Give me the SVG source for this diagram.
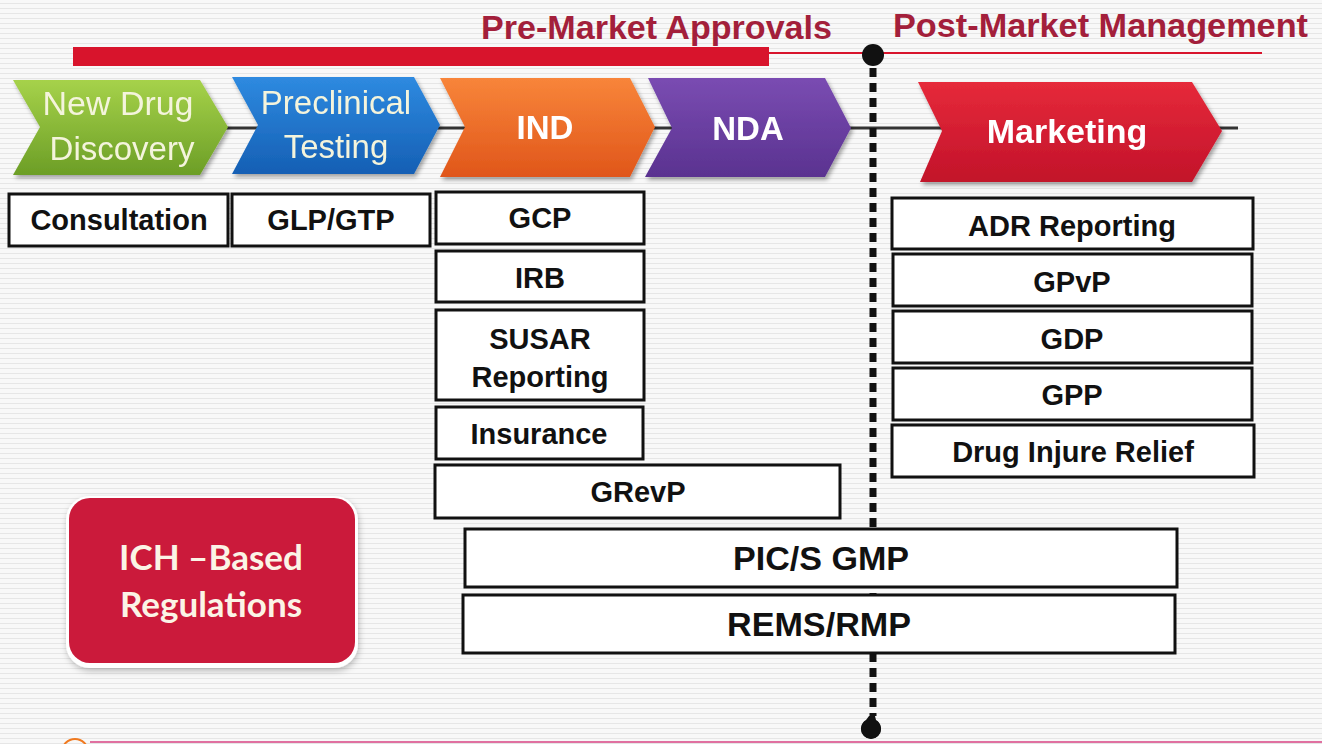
<svg xmlns="http://www.w3.org/2000/svg" width="1322" height="744" viewBox="0 0 1322 744">
  <defs>
    <pattern id="bgLines" width="8" height="5" patternUnits="userSpaceOnUse">
      <rect width="8" height="5" fill="#f8f8f8"/>
      <rect y="3" width="8" height="1" fill="#e6e6e6"/>
    </pattern>
    <linearGradient id="gGreen" x1="0" y1="0" x2="0" y2="1">
      <stop offset="0" stop-color="#a6d24a"/>
      <stop offset="1" stop-color="#6c9e26"/>
    </linearGradient>
    <linearGradient id="gBlue" x1="0" y1="0" x2="0" y2="1">
      <stop offset="0" stop-color="#2e8ae0"/>
      <stop offset="1" stop-color="#155fb4"/>
    </linearGradient>
    <linearGradient id="gOrange" x1="0" y1="0" x2="0" y2="1">
      <stop offset="0" stop-color="#f8853a"/>
      <stop offset="1" stop-color="#e0561a"/>
    </linearGradient>
    <linearGradient id="gPurple" x1="0" y1="0" x2="0" y2="1">
      <stop offset="0" stop-color="#7a4cb2"/>
      <stop offset="1" stop-color="#5a3290"/>
    </linearGradient>
    <linearGradient id="gRed" x1="0" y1="0" x2="0" y2="1">
      <stop offset="0" stop-color="#e62a3a"/>
      <stop offset="1" stop-color="#c2122a"/>
    </linearGradient>
    <filter id="shadow" x="-10%" y="-10%" width="125%" height="130%">
      <feDropShadow dx="2" dy="3" stdDeviation="2" flood-color="#000" flood-opacity="0.35"/>
    </filter>
    <filter id="softShadow" x="-10%" y="-10%" width="125%" height="130%">
      <feDropShadow dx="1" dy="3" stdDeviation="3" flood-color="#000" flood-opacity="0.25"/>
    </filter>
    <style>
      .title { font-family: "Liberation Sans", Arial, sans-serif; font-weight: bold; font-size: 34px; fill: #a31f3b; }
      .chevText { font-family: "Liberation Sans", Arial, sans-serif; font-size: 33px; fill: #f4f4dc; text-anchor: middle; }
      .chevBold { font-family: "Liberation Sans", Arial, sans-serif; font-weight: bold; font-size: 33px; fill: #ffffff; text-anchor: middle; }
      .box { fill: #ffffff; stroke: #111111; stroke-width: 3; }
      .boxText { font-family: "Liberation Sans", Arial, sans-serif; font-weight: bold; font-size: 29px; fill: #111111; text-anchor: middle; }
      .bigText { font-family: "Liberation Sans", Arial, sans-serif; font-weight: bold; font-size: 34px; fill: #111111; text-anchor: middle; }
      .ichText { font-family: Lato, "Open Sans", "Liberation Sans", sans-serif; font-weight: bold; font-size: 35px; fill: #fbf4e6; text-anchor: middle; }
    </style>
  </defs>

  <rect width="1322" height="744" fill="url(#bgLines)"/>

  <!-- Header -->
  <g id="header">
    <text class="title" x="481" y="39" textLength="351" lengthAdjust="spacingAndGlyphs">Pre-Market Approvals</text>
    <text class="title" x="893" y="37" textLength="415" lengthAdjust="spacingAndGlyphs">Post-Market Management</text>
    <rect x="73" y="47" width="696" height="19" fill="#d8142c"/>
    <line x1="769" y1="53" x2="1262" y2="53" stroke="#d8142c" stroke-width="2"/>
  </g>

  <!-- Connectors -->
  <g id="connectors">
    <line x1="225" y1="128" x2="1238" y2="128" stroke="#333333" stroke-width="3"/>
    <line x1="873" y1="68" x2="873" y2="716" stroke="#111111" stroke-width="7" stroke-dasharray="9 6"/>
    <circle cx="873" cy="55" r="11" fill="#111111"/>
    <path d="M869,716 L875,716 L876,720 A10,10 0 1 1 866,720 Z" fill="#111111"/>
    <circle cx="871" cy="729" r="10" fill="#111111"/>
  </g>

  <!-- Chevrons -->
  <g id="stage-discovery" filter="url(#shadow)">
    <polygon points="13,80 200,80 228,127 200,175 13,175 40,127" fill="url(#gGreen)"/>
    <text class="chevText" x="118" y="115" textLength="151" lengthAdjust="spacingAndGlyphs">New Drug</text>
    <text class="chevText" x="122" y="160">Discovery</text>
  </g>
  <g id="stage-preclinical" filter="url(#shadow)">
    <polygon points="232,77 414,77 440,125 414,174 232,174 258,125" fill="url(#gBlue)"/>
    <text class="chevText" x="336" y="114">Preclinical</text>
    <text class="chevText" x="336" y="158">Testing</text>
  </g>
  <g id="stage-ind" filter="url(#shadow)">
    <polygon points="440,78 630,78 655,127 630,177 440,177 465,127" fill="url(#gOrange)"/>
    <text class="chevBold" x="545" y="139">IND</text>
  </g>
  <g id="stage-nda" filter="url(#shadow)">
    <polygon points="648,78 825,78 851,128 825,177 645,177 672,128" fill="url(#gPurple)"/>
    <text class="chevBold" x="748" y="140">NDA</text>
  </g>
  <g id="stage-marketing" filter="url(#shadow)">
    <polygon points="918,82 1192,82 1222,131 1192,182 920,182 942,131" fill="url(#gRed)"/>
    <text class="chevBold" x="1067" y="143" style="font-size:34px">Marketing</text>
  </g>

  <!-- Boxes -->
  <g id="box-consultation">
    <rect class="box" x="9" y="194" width="219" height="52"/>
    <text class="boxText" x="119" y="230">Consultation</text>
  </g>
  <g id="box-glp">
    <rect class="box" x="232" y="194" width="198" height="52"/>
    <text class="boxText" x="331" y="230">GLP/GTP</text>
  </g>
  <g id="box-gcp">
    <rect class="box" x="436" y="192" width="208" height="52"/>
    <text class="boxText" x="540" y="228">GCP</text>
  </g>
  <g id="box-irb">
    <rect class="box" x="436" y="251" width="208" height="51"/>
    <text class="boxText" x="540" y="288">IRB</text>
  </g>
  <g id="box-susar">
    <rect class="box" x="436" y="310" width="208" height="90"/>
    <text class="boxText" x="540" y="349">SUSAR</text>
    <text class="boxText" x="540" y="387">Reporting</text>
  </g>
  <g id="box-insurance">
    <rect class="box" x="436" y="407" width="207" height="52"/>
    <text class="boxText" x="539" y="444">Insurance</text>
  </g>
  <g id="box-grevp">
    <rect class="box" x="435" y="465" width="405" height="53"/>
    <text class="boxText" x="638" y="502">GRevP</text>
  </g>
  <g id="box-pics">
    <rect class="box" x="465" y="529" width="712" height="58"/>
    <text class="bigText" x="821" y="570" textLength="176" lengthAdjust="spacingAndGlyphs">PIC/S GMP</text>
  </g>
  <g id="box-rems">
    <rect class="box" x="463" y="595" width="712" height="58"/>
    <text class="bigText" x="819" y="636" textLength="184" lengthAdjust="spacingAndGlyphs">REMS/RMP</text>
  </g>
  <g id="box-adr">
    <rect class="box" x="892" y="198" width="361" height="51"/>
    <text class="boxText" x="1072" y="236">ADR Reporting</text>
  </g>
  <g id="box-gpvp">
    <rect class="box" x="893" y="254" width="359" height="52"/>
    <text class="boxText" x="1072" y="292">GPvP</text>
  </g>
  <g id="box-gdp">
    <rect class="box" x="893" y="311" width="359" height="52"/>
    <text class="boxText" x="1072" y="349">GDP</text>
  </g>
  <g id="box-gpp">
    <rect class="box" x="893" y="368" width="359" height="52"/>
    <text class="boxText" x="1072" y="405">GPP</text>
  </g>
  <g id="box-relief">
    <rect class="box" x="892" y="425" width="362" height="52"/>
    <text class="boxText" x="1073" y="462">Drug Injure Relief</text>
  </g>

  <!-- ICH box -->
  <g id="ich-box">
    <rect x="66" y="496" width="292" height="172" rx="24" fill="#ffffff" filter="url(#softShadow)"/>
    <rect x="69" y="498" width="286" height="165" rx="21" fill="#cb1a3b"/>
    <text class="ichText" x="211" y="570">ICH –Based</text>
    <text class="ichText" x="211" y="617">Regulations</text>
  </g>

  <!-- bottom edge decoration -->
  <g id="footer">
    <line x1="90" y1="742" x2="1322" y2="742" stroke="#e070a0" stroke-width="2"/>
    <circle cx="75" cy="752" r="13" fill="none" stroke="#f07a20" stroke-width="2"/>
  </g>
</svg>
